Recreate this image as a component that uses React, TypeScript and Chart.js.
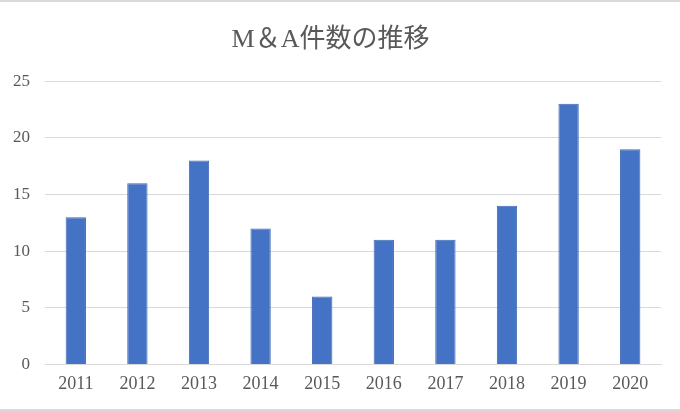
import React, { useEffect, useRef } from "react";
import { Chart, registerables } from "chart.js";

Chart.register(...registerables);

const categories = ["2011", "2012", "2013", "2014", "2015", "2016", "2017", "2018", "2019", "2020"];
const counts = [13, 16, 18, 12, 6, 11, 11, 14, 23, 19];
const titleText = "M＆A件数の推移";

export default function App() {
  const ref = useRef<HTMLCanvasElement | null>(null);

  useEffect(() => {
    document.body.style.margin = "0";
    const ctx = ref.current!;
    const chart = new Chart(ctx, {
      type: "bar",
      data: {
        labels: categories,
        datasets: [
          {
            data: counts,
            backgroundColor: "#4472C4",
            borderColor: "#3F69B5",
            borderWidth: 1,
            barPercentage: 0.33,
            categoryPercentage: 1,
          },
        ],
      },
      options: {
        responsive: false,
        animation: false,
        layout: { padding: { left: 0, right: 19, top: 13, bottom: 5 } },
        plugins: {
          legend: { display: false },
          tooltip: { enabled: false },
          title: {
            display: true,
            text: titleText,
            color: "#595959",
            font: { family: "'Liberation Serif', 'Noto Sans CJK JP', serif", size: 26, weight: "normal" },
            padding: { top: 10, bottom: 25 },
          },
        },
        scales: {
          x: {
            grid: { display: false, drawTicks: false },
            border: { display: true, color: "#D9D9D9", width: 1 },
            ticks: {
              color: "#595959",
              font: { family: "'Liberation Serif', serif", size: 18 },
              padding: 9,
            },
          },
          y: {
            min: 0,
            max: 25,
            afterFit: (scale: any) => {
              scale.width = 45;
            },
            ticks: {
              stepSize: 5,
              color: "#595959",
              font: { family: "'Liberation Serif', serif", size: 17 },
              padding: 15,
            },
            grid: { color: "#D9D9D9", drawTicks: false },
            border: { display: false },
          },
        },
      },
    });
    return () => chart.destroy();
  }, []);

  return (
    <div
      style={{
        width: 680,
        height: 411,
        boxSizing: "border-box",
        borderTop: "2px solid #D9D9D9",
        borderBottom: "2px solid #D9D9D9",
        background: "#fff",
        position: "relative",
      }}
    >
      <canvas ref={ref} width={680} height={407} />
    </div>
  );
}
